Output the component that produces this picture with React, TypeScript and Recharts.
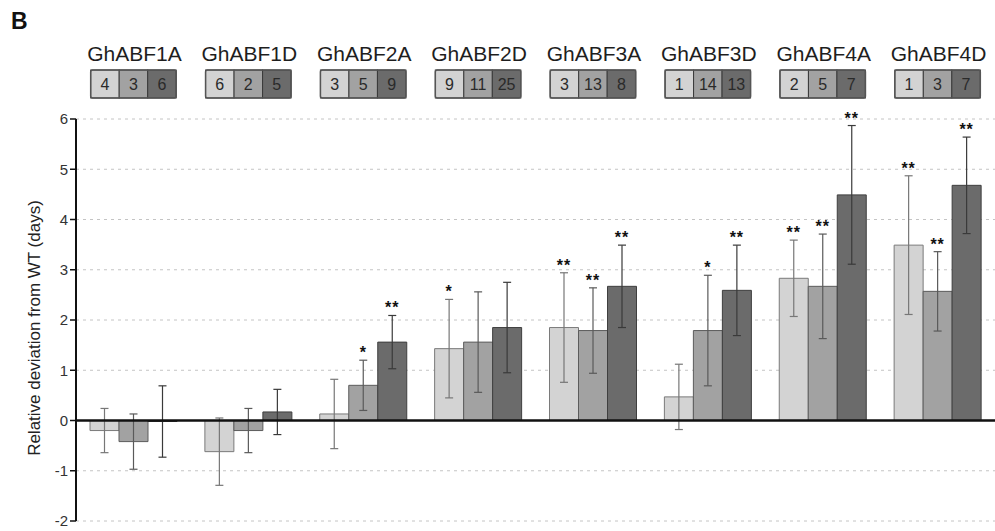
import React from "react";
import {
  ComposedChart,
  Bar,
  XAxis,
  YAxis,
  CartesianGrid,
  ErrorBar,
  ReferenceLine,
  LabelList,
  Label,
} from "recharts";

// genes along the x axis
const genes = ["GhABF1A", "GhABF1D", "GhABF2A", "GhABF2D", "GhABF3A", "GhABF3D", "GhABF4A", "GhABF4D"];

// number of lines per class (the boxes under each gene name)
const linesLow = [4, 6, 3, 9, 3, 1, 2, 1];
const linesMid = [3, 2, 5, 11, 13, 14, 5, 3];
const linesHigh = [6, 5, 9, 25, 8, 13, 7, 7];

// relative deviation from WT (days) and error
const devLow = [-0.2, -0.62, 0.13, 1.43, 1.85, 0.47, 2.83, 3.49];
const errLow = [0.44, 0.67, 0.69, 0.98, 1.09, 0.65, 0.76, 1.38];
const devMid = [-0.42, -0.2, 0.7, 1.56, 1.79, 1.79, 2.67, 2.57];
const errMid = [0.55, 0.44, 0.5, 1.0, 0.85, 1.1, 1.04, 0.79];
const devHigh = [-0.02, 0.17, 1.56, 1.85, 2.67, 2.59, 4.49, 4.68];
const errHigh = [0.71, 0.45, 0.53, 0.9, 0.82, 0.9, 1.38, 0.96];

// significance marks
const sigLow = ["", "", "", "*", "**", "", "**", "**"];
const sigMid = ["", "", "*", "", "**", "*", "**", "**"];
const sigHigh = ["", "", "**", "", "**", "**", "**", "**"];

const yTicks = [-2, -1, 0, 1, 2, 3, 4, 5, 6];

const FILLS = ["#d3d3d3", "#a2a2a2", "#6b6b6b"];
const FONT = "'Liberation Sans', Arial, sans-serif";

const data = genes.map((gene, i) => ({
  gene,
  low: devLow[i],
  lowErr: errLow[i],
  mid: devMid[i],
  midErr: errMid[i],
  high: devHigh[i],
  highErr: errHigh[i],
}));

function GeneTick({ x, index }: any) {
  const counts = [linesLow[index], linesMid[index], linesHigh[index]];
  const cell = 28.5;
  const left = x - cell * 1.5;
  return (
    <g fontFamily={FONT}>
      <text x={x + 1} y={61} textAnchor="middle" fontSize={21} fill="#1e1e1e">
        {genes[index]}
      </text>
      {counts.map((c, k) => (
        <g key={k}>
          <rect x={left + k * cell} y={70} width={cell} height={28} fill={FILLS[k]} stroke="#3a3a3a" strokeWidth={1} />
          <text x={left + k * cell + cell / 2} y={90} textAnchor="middle" fontSize={16} fill="#2a2a2a">
            {c}
          </text>
        </g>
      ))}
      <rect x={left} y={70} width={cell * 3} height={28} rx={2} fill="none" stroke="#555" strokeWidth={1.5} />
    </g>
  );
}

const starLabel = (marks: string[], errs: number[]) => (props: any) => {
  const { x, y, width, height, index, value } = props;
  const s = marks[index];
  if (!s || !value) return null;
  const pxPerUnit = Math.abs(height / value);
  const capY = y - errs[index] * pxPerUnit;
  return (
    <text
      x={x + width / 2}
      y={capY - 2}
      textAnchor="middle"
      fontSize={16}
      fontWeight="bold"
      fontFamily={FONT}
      fill="#111"
      letterSpacing={1}
    >
      {s}
    </text>
  );
};

function AxisTitle({ viewBox }: any) {
  const cy = viewBox ? viewBox.y + viewBox.height / 2 + 8 : 328;
  return (
    <text
      transform={`translate(34, ${cy}) rotate(-90)`}
      textAnchor="middle"
      dominantBaseline="central"
      fontSize={17}
      fontFamily={FONT}
      fill="#222"
    >
      Relative deviation from WT (days)
    </text>
  );
}

export default function App() {
  return (
    <div style={{ position: "absolute", left: 0, top: 0, width: 995, height: 531, background: "#fff" }}>
      <div
        style={{
          position: "absolute",
          left: 11,
          top: 8,
          fontSize: 23,
          lineHeight: "26px",
          fontWeight: 700,
          fontFamily: FONT,
          color: "#111",
        }}
      >
        B
      </div>
      <ComposedChart
        width={995}
        height={531}
        data={data}
        margin={{ top: 79, right: 0, bottom: 10, left: 0 }}
        barCategoryGap={14}
        barGap={0}
      >
        <CartesianGrid vertical={false} stroke="#c4c4c4" strokeDasharray="3 4" />
        <XAxis
          dataKey="gene"
          orientation="top"
          height={40}
          axisLine={false}
          tickLine={false}
          interval={0}
          tick={<GeneTick />}
        />
        <YAxis
          width={76}
          domain={[-2, 6]}
          ticks={yTicks}
          interval={0}
          axisLine={{ stroke: "#111", strokeWidth: 2 }}
          tickLine={{ stroke: "#111", strokeWidth: 1.5 }}
          tickSize={6}
          tickMargin={2}
          tick={{ fill: "#333", fontSize: 15, fontFamily: FONT }}
        >
          <Label content={<AxisTitle />} />
        </YAxis>
        <Bar dataKey="low" fill={FILLS[0]} stroke="#7a7a7a" strokeWidth={1} isAnimationActive={false}>
          <ErrorBar dataKey="lowErr" width={4} stroke="#777" strokeWidth={1.2} direction="y" isAnimationActive={false} />
          <LabelList dataKey="low" content={starLabel(sigLow, errLow)} />
        </Bar>
        <Bar dataKey="mid" fill={FILLS[1]} stroke="#5c5c5c" strokeWidth={1} isAnimationActive={false}>
          <ErrorBar dataKey="midErr" width={4} stroke="#5a5a5a" strokeWidth={1.2} direction="y" isAnimationActive={false} />
          <LabelList dataKey="mid" content={starLabel(sigMid, errMid)} />
        </Bar>
        <Bar dataKey="high" fill={FILLS[2]} stroke="#3f3f3f" strokeWidth={1} isAnimationActive={false}>
          <ErrorBar dataKey="highErr" width={4} stroke="#3a3a3a" strokeWidth={1.2} direction="y" isAnimationActive={false} />
          <LabelList dataKey="high" content={starLabel(sigHigh, errHigh)} />
        </Bar>
        <ReferenceLine y={0} stroke="#111" strokeWidth={2.5} />
      </ComposedChart>
    </div>
  );
}
